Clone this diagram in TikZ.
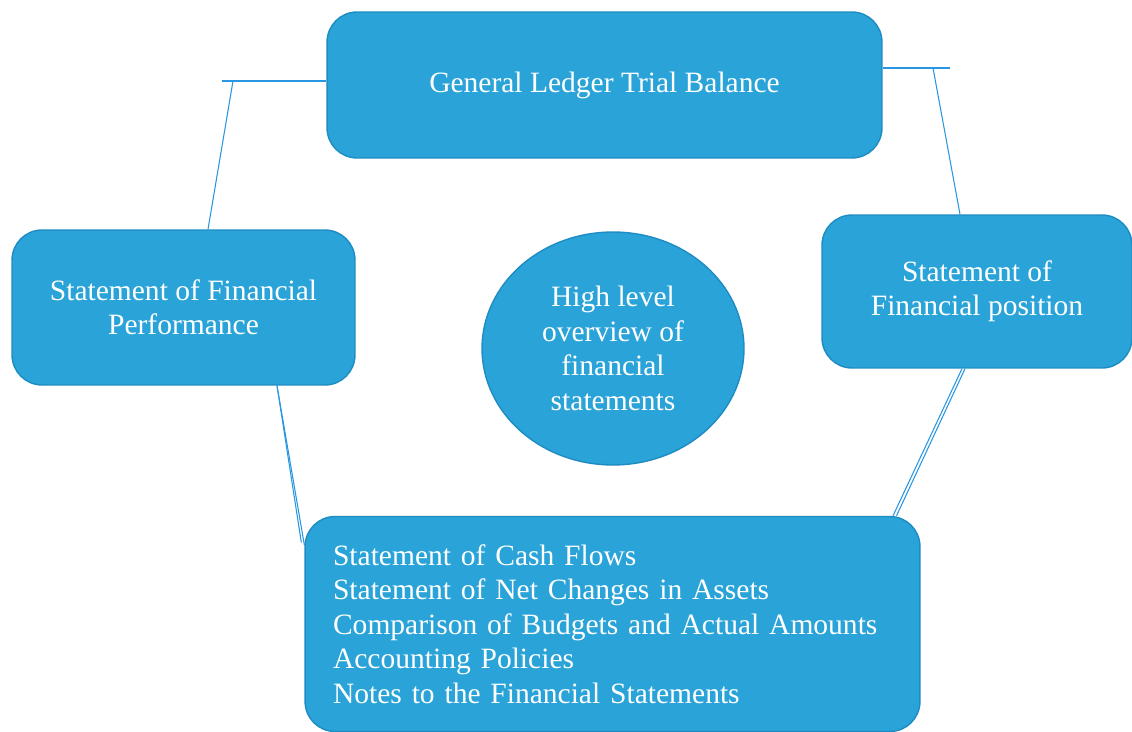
\documentclass[tikz,border=0pt]{standalone}
\usepackage{fontspec}
\setmainfont{Liberation Serif}
\usepackage{tikz}
\usetikzlibrary{calc,shapes.geometric}

\definecolor{boxblue}{RGB}{41,163,216}
\definecolor{edgeblue}{RGB}{30,140,195}
\definecolor{lineblue}{RGB}{40,150,225}

\tikzset{
	box/.style={draw=edgeblue, line width=0.8pt, fill=boxblue, rounded corners=0.6cm, text=white,
		font=\fontsize{16.8}{19.6}\selectfont, align=center},
	link/.style={draw=lineblue, line width=0.6pt}
}

\begin{document}
\begin{tikzpicture}[x=0.02cm, y=-0.02cm]
			\useasboundingbox (0, 0) rectangle (1132, 732);
			
			% Top
			\node[box, minimum width=11.1cm, minimum height=2.92cm] (gl) at (604.5, 85) {General Ledger Trial Balance};
			
			% Left
			\node[box, minimum width=6.86cm, minimum height=3.1cm] (sfp) at (183.5, 307.5) {Statement of Financial\\Performance};
			
			% Right
			\node[box, minimum width=6.2cm, minimum height=3.06cm] (pos) at (977, 291.5) {Statement of\\Financial position};
			
			% Bottom
			\node[box, minimum width=12.3cm, minimum height=4.3cm, text width=11.18cm, align=left, inner sep=0.56cm] (notes) at (612.5, 624) {Statement of Cash Flows\\Statement of Net Changes in Assets\\Comparison of Budgets and Actual Amounts\\Accounting Policies\\Notes to the Financial Statements};
			
			% Middle
			\node[box, ellipse, minimum width=5.24cm, minimum height=4.66cm, inner sep=0pt] (hub) at (613, 348.5) {High level\\overview of\\financial\\statements};
			
			% Top left
			\coordinate (glL) at (222, 81);
			\draw[link] (gl.west |- glL) -- (glL);
			\draw[link] ($(glL)+(11, 0)$) -- ($(sfp.north)+(24.5, 0)$);
			
			% Top right
			\coordinate (glR) at (950, 68);
			\draw[link] (gl.east |- glR) -- (glR);
			\draw[link] ($(glR)+(-17, 0)$) -- ($(pos.north)+(-17, 0)$);
			
			% Bottom left
			\draw[link] ($(sfp.south)+(93.5, 0)$) -- ($(notes.west)+(0, -79)$);
			\draw[link] ($(sfp.south)+(93.5, 0)$) -- ($(notes.west)+(-3, -81.5)$);
			
			% Bottom right
			\draw[link] ($(pos.south)+(-15, 0)$) -- ($(notes.north)+(280.5, 0)$);
			\draw[link] ($(pos.south)+(-12, 0)$) -- ($(notes.north)+(284, 0)$);
			
		\end{tikzpicture}
\end{document}
